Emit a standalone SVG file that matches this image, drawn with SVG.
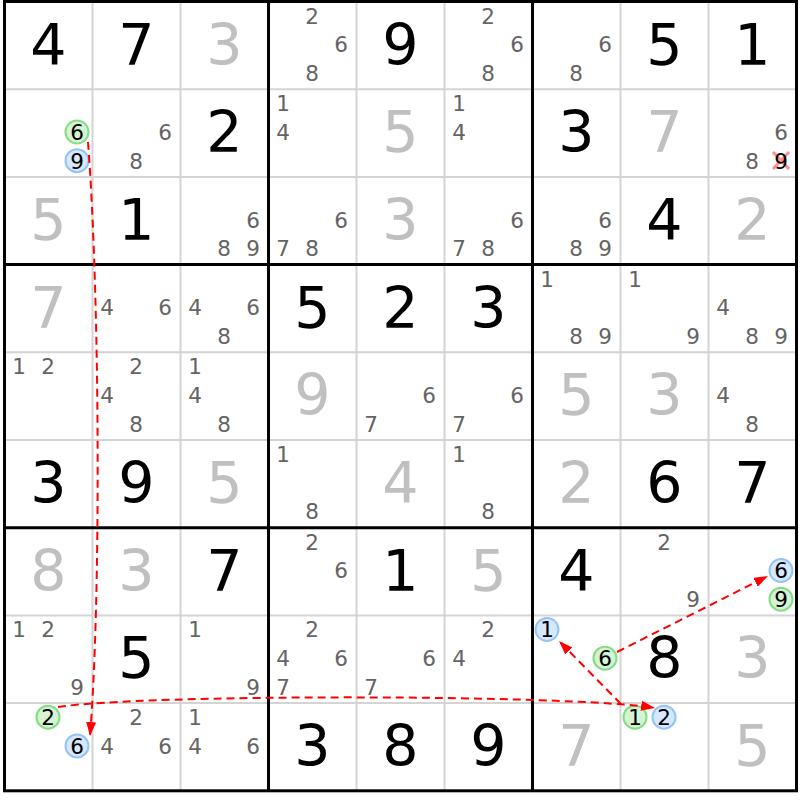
<svg xmlns="http://www.w3.org/2000/svg" width="800" height="800" viewBox="0 0 800 800">
<defs>
<style>
text{font-family:"DejaVu Sans","Verdana",sans-serif;text-anchor:middle}
.g{font-size:57px;fill:#000}
.s{font-size:57px;fill:#c0c0c0}
.c{font-size:21.5px;fill:#646464}
.k{font-size:21.5px;fill:#000}
.thin{stroke:#d4d4d4;stroke-width:2}
.thick{stroke:#000;stroke-width:3}
.gc{fill:#d4f4d4;stroke:#86dc86;stroke-width:2}
.bc{fill:#d6e8ff;stroke:#95c4f4;stroke-width:2}
.arr{fill:none;stroke:#ff0000;stroke-width:2;stroke-dasharray:8 5}
.x{stroke:#ff8c8c;stroke-width:3}
</style>
<marker id="ah" markerUnits="userSpaceOnUse" viewBox="0 0 14 10" refX="14" refY="5" markerWidth="14" markerHeight="10" orient="auto">
<path d="M0,0 L14,5 L0,10 z" fill="#ff0000" stroke="none"/>
</marker>
</defs>
<rect x="0" y="0" width="800" height="800" fill="#fff"/>
<g id="grid">
<path class="thin" d="M92.5,1.5V790.8M180.5,1.5V790.8M356.5,1.5V790.8M444.5,1.5V790.8M620.5,1.5V790.8M708.5,1.5V790.8M4.5,89.2H796.5M4.5,176.9H796.5M4.5,352.3H796.5M4.5,440H796.5M4.5,615.4H796.5M4.5,703.1H796.5"/>
<path class="thick" d="M268.5,1.5V790.8M532.5,1.5V790.8M4.5,264.6H796.5M4.5,527.7H796.5"/>
<rect class="thick" x="4.5" y="1.5" width="792" height="789.3" fill="none"/>
</g>
<g id="r1">
<g id="r1c1"><text class="g" x="48.5" y="64.5">4</text></g>
<g id="r1c2"><text class="g" x="136.5" y="64.5">7</text></g>
<g id="r1c3"><text class="s" x="224.5" y="64.5">3</text></g>
<g id="r1c4"><text class="c" x="312" y="23.5">2</text><text class="c" x="341" y="52.2">6</text><text class="c" x="312" y="80.9">8</text></g>
<g id="r1c5"><text class="g" x="400.5" y="64.5">9</text></g>
<g id="r1c6"><text class="c" x="488" y="23.5">2</text><text class="c" x="517" y="52.2">6</text><text class="c" x="488" y="80.9">8</text></g>
<g id="r1c7"><text class="c" x="605" y="52.2">6</text><text class="c" x="576" y="80.9">8</text></g>
<g id="r1c8"><text class="g" x="664.5" y="64.5">5</text></g>
<g id="r1c9"><text class="g" x="752.5" y="64.5">1</text></g>
</g>
<g id="r2">
<g id="r2c1"><circle class="gc" cx="77" cy="132" r="11.5"/><text class="k" x="77" y="139.9">6</text><circle class="bc" cx="77" cy="160.7" r="11.5"/><text class="k" x="77" y="168.6">9</text></g>
<g id="r2c2"><text class="c" x="165" y="139.9">6</text><text class="c" x="136" y="168.6">8</text></g>
<g id="r2c3"><text class="g" x="224.5" y="152.2">2</text></g>
<g id="r2c4"><text class="c" x="283" y="111.2">1</text><text class="c" x="283" y="139.9">4</text></g>
<g id="r2c5"><text class="s" x="400.5" y="152.2">5</text></g>
<g id="r2c6"><text class="c" x="459" y="111.2">1</text><text class="c" x="459" y="139.9">4</text></g>
<g id="r2c7"><text class="g" x="576.5" y="152.2">3</text></g>
<g id="r2c8"><text class="s" x="664.5" y="152.2">7</text></g>
<g id="r2c9"><text class="c" x="781" y="139.9">6</text><text class="c" x="752" y="168.6">8</text><path class="x" d="M773,152L789,169M789,152L773,169"/><text class="k" x="781" y="168.6">9</text></g>
</g>
<g id="r3">
<g id="r3c1"><text class="s" x="48.5" y="239.9">5</text></g>
<g id="r3c2"><text class="g" x="136.5" y="239.9">1</text></g>
<g id="r3c3"><text class="c" x="253" y="227.6">6</text><text class="c" x="224" y="256.3">8</text><text class="c" x="253" y="256.3">9</text></g>
<g id="r3c4"><text class="c" x="341" y="227.6">6</text><text class="c" x="283" y="256.3">7</text><text class="c" x="312" y="256.3">8</text></g>
<g id="r3c5"><text class="s" x="400.5" y="239.9">3</text></g>
<g id="r3c6"><text class="c" x="517" y="227.6">6</text><text class="c" x="459" y="256.3">7</text><text class="c" x="488" y="256.3">8</text></g>
<g id="r3c7"><text class="c" x="605" y="227.6">6</text><text class="c" x="576" y="256.3">8</text><text class="c" x="605" y="256.3">9</text></g>
<g id="r3c8"><text class="g" x="664.5" y="239.9">4</text></g>
<g id="r3c9"><text class="s" x="752.5" y="239.9">2</text></g>
</g>
<g id="r4">
<g id="r4c1"><text class="s" x="48.5" y="327.6">7</text></g>
<g id="r4c2"><text class="c" x="107" y="315.3">4</text><text class="c" x="165" y="315.3">6</text></g>
<g id="r4c3"><text class="c" x="195" y="315.3">4</text><text class="c" x="253" y="315.3">6</text><text class="c" x="224" y="344">8</text></g>
<g id="r4c4"><text class="g" x="312.5" y="327.6">5</text></g>
<g id="r4c5"><text class="g" x="400.5" y="327.6">2</text></g>
<g id="r4c6"><text class="g" x="488.5" y="327.6">3</text></g>
<g id="r4c7"><text class="c" x="547" y="286.6">1</text><text class="c" x="576" y="344">8</text><text class="c" x="605" y="344">9</text></g>
<g id="r4c8"><text class="c" x="635" y="286.6">1</text><text class="c" x="693" y="344">9</text></g>
<g id="r4c9"><text class="c" x="723" y="315.3">4</text><text class="c" x="752" y="344">8</text><text class="c" x="781" y="344">9</text></g>
</g>
<g id="r5">
<g id="r5c1"><text class="c" x="19" y="374.3">1</text><text class="c" x="48" y="374.3">2</text></g>
<g id="r5c2"><text class="c" x="136" y="374.3">2</text><text class="c" x="107" y="403">4</text><text class="c" x="136" y="431.7">8</text></g>
<g id="r5c3"><text class="c" x="195" y="374.3">1</text><text class="c" x="195" y="403">4</text><text class="c" x="224" y="431.7">8</text></g>
<g id="r5c4"><text class="s" x="312.5" y="415.3">9</text></g>
<g id="r5c5"><text class="c" x="429" y="403">6</text><text class="c" x="371" y="431.7">7</text></g>
<g id="r5c6"><text class="c" x="517" y="403">6</text><text class="c" x="459" y="431.7">7</text></g>
<g id="r5c7"><text class="s" x="576.5" y="415.3">5</text></g>
<g id="r5c8"><text class="s" x="664.5" y="415.3">3</text></g>
<g id="r5c9"><text class="c" x="723" y="403">4</text><text class="c" x="752" y="431.7">8</text></g>
</g>
<g id="r6">
<g id="r6c1"><text class="g" x="48.5" y="503">3</text></g>
<g id="r6c2"><text class="g" x="136.5" y="503">9</text></g>
<g id="r6c3"><text class="s" x="224.5" y="503">5</text></g>
<g id="r6c4"><text class="c" x="283" y="462">1</text><text class="c" x="312" y="519.4">8</text></g>
<g id="r6c5"><text class="s" x="400.5" y="503">4</text></g>
<g id="r6c6"><text class="c" x="459" y="462">1</text><text class="c" x="488" y="519.4">8</text></g>
<g id="r6c7"><text class="s" x="576.5" y="503">2</text></g>
<g id="r6c8"><text class="g" x="664.5" y="503">6</text></g>
<g id="r6c9"><text class="g" x="752.5" y="503">7</text></g>
</g>
<g id="r7">
<g id="r7c1"><text class="s" x="48.5" y="590.7">8</text></g>
<g id="r7c2"><text class="s" x="136.5" y="590.7">3</text></g>
<g id="r7c3"><text class="g" x="224.5" y="590.7">7</text></g>
<g id="r7c4"><text class="c" x="312" y="549.7">2</text><text class="c" x="341" y="578.4">6</text></g>
<g id="r7c5"><text class="g" x="400.5" y="590.7">1</text></g>
<g id="r7c6"><text class="s" x="488.5" y="590.7">5</text></g>
<g id="r7c7"><text class="g" x="576.5" y="590.7">4</text></g>
<g id="r7c8"><text class="c" x="664" y="549.7">2</text><text class="c" x="693" y="607.1">9</text></g>
<g id="r7c9"><circle class="bc" cx="781" cy="570.5" r="11.5"/><text class="k" x="781" y="578.4">6</text><circle class="gc" cx="781" cy="599.2" r="11.5"/><text class="k" x="781" y="607.1">9</text></g>
</g>
<g id="r8">
<g id="r8c1"><text class="c" x="19" y="637.4">1</text><text class="c" x="48" y="637.4">2</text><text class="c" x="77" y="694.8">9</text></g>
<g id="r8c2"><text class="g" x="136.5" y="678.4">5</text></g>
<g id="r8c3"><text class="c" x="195" y="637.4">1</text><text class="c" x="253" y="694.8">9</text></g>
<g id="r8c4"><text class="c" x="312" y="637.4">2</text><text class="c" x="283" y="666.1">4</text><text class="c" x="341" y="666.1">6</text><text class="c" x="283" y="694.8">7</text></g>
<g id="r8c5"><text class="c" x="429" y="666.1">6</text><text class="c" x="371" y="694.8">7</text></g>
<g id="r8c6"><text class="c" x="488" y="637.4">2</text><text class="c" x="459" y="666.1">4</text></g>
<g id="r8c7"><circle class="bc" cx="547" cy="629.5" r="11.5"/><text class="k" x="547" y="637.4">1</text><circle class="gc" cx="605" cy="658.2" r="11.5"/><text class="k" x="605" y="666.1">6</text></g>
<g id="r8c8"><text class="g" x="664.5" y="678.4">8</text></g>
<g id="r8c9"><text class="s" x="752.5" y="678.4">3</text></g>
</g>
<g id="r9">
<g id="r9c1"><circle class="gc" cx="48" cy="717.2" r="11.5"/><text class="k" x="48" y="725.1">2</text><circle class="bc" cx="77" cy="745.9" r="11.5"/><text class="k" x="77" y="753.8">6</text></g>
<g id="r9c2"><text class="c" x="136" y="725.1">2</text><text class="c" x="107" y="753.8">4</text><text class="c" x="165" y="753.8">6</text></g>
<g id="r9c3"><text class="c" x="195" y="725.1">1</text><text class="c" x="195" y="753.8">4</text><text class="c" x="253" y="753.8">6</text></g>
<g id="r9c4"><text class="g" x="312.5" y="766.1">3</text></g>
<g id="r9c5"><text class="g" x="400.5" y="766.1">8</text></g>
<g id="r9c6"><text class="g" x="488.5" y="766.1">9</text></g>
<g id="r9c7"><text class="s" x="576.5" y="766.1">7</text></g>
<g id="r9c8"><circle class="gc" cx="635" cy="717.2" r="11.5"/><text class="k" x="635" y="725.1">1</text><circle class="bc" cx="664" cy="717.2" r="11.5"/><text class="k" x="664" y="725.1">2</text></g>
<g id="r9c9"><text class="s" x="752.5" y="766.1">5</text></g>
</g>
<g id="connectors">
<path class="arr" marker-end="url(#ah)" d="M88,142 C100,300 101,600 90,736"/>
<path class="arr" marker-end="url(#ah)" d="M58,707 C140,694 570,694 655,708"/>
<path class="arr" marker-end="url(#ah)" d="M621,704 L559,641"/>
<path class="arr" marker-end="url(#ah)" d="M617,652 L768,576"/>
</g>
</svg>
